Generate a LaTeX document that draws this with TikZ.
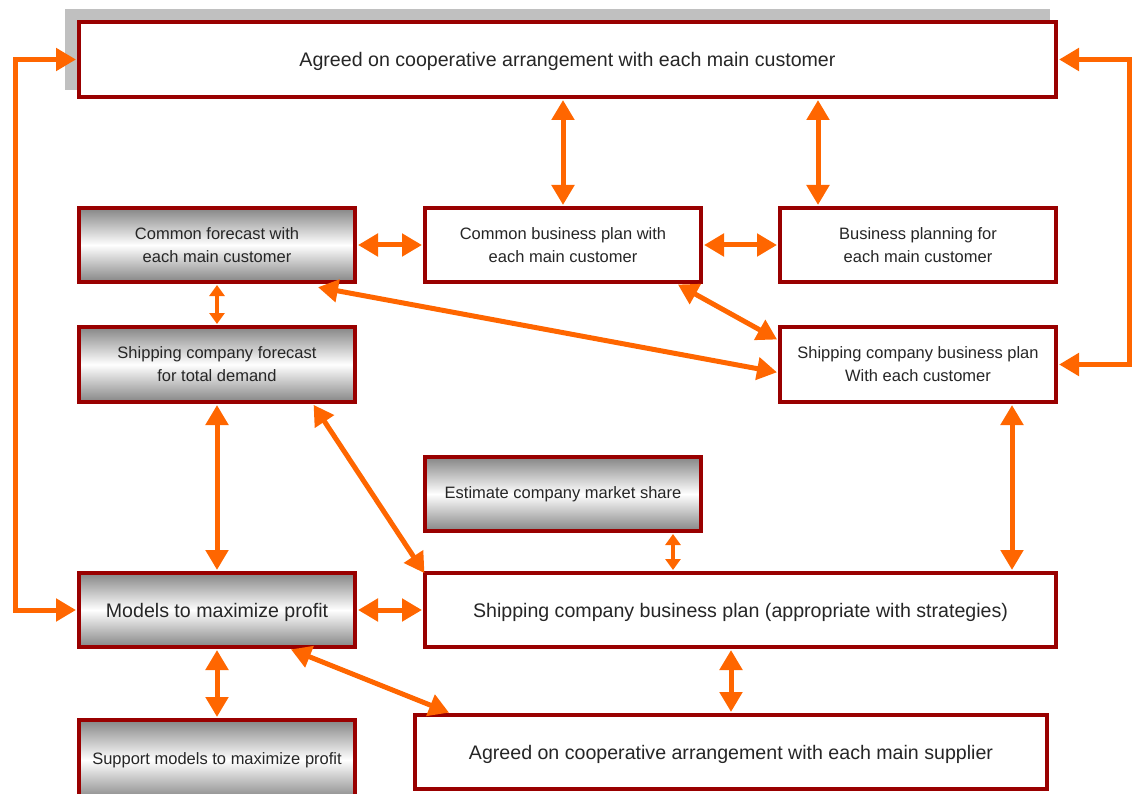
\documentclass[tikz,border=0pt]{standalone}
\usepackage{fontspec}
\setmainfont{Liberation Sans}
\usetikzlibrary{arrows.meta,calc}
\definecolor{bord}{HTML}{990000}
\definecolor{org}{HTML}{FF6600}
\definecolor{shd}{HTML}{C0C0C0}
\definecolor{gry}{HTML}{858585}
\tikzset{
  box/.style={draw=bord, line width=4pt, fill=white, inner sep=0pt, align=center, text=black!85},
  gbox/.style={box, top color=gry, bottom color=gry, middle color=white},
  small/.style={font=\fontsize{16.5pt}{23pt}\selectfont},
  big/.style={font=\fontsize{19.6pt}{23pt}\selectfont, text depth=0pt},
  dbl/.style={draw=org, line width=5pt, {Triangle[width=22pt,length=20pt]}-{Triangle[width=22pt,length=20pt]}, shorten <=1pt, shorten >=1pt},
  sdbl/.style={draw=org, line width=4pt, {Triangle[width=15pt,length=11pt]}-{Triangle[width=15pt,length=11pt]}, shorten <=1pt, shorten >=1pt},
}
\begin{document}
\begin{tikzpicture}[x=1pt,y=-1pt]
\useasboundingbox (0,0) rectangle (1132,794);
\clip (0,0) rectangle (1132,794);
\fill[shd] (65,9) rectangle (1050,90);
\node[box, big, minimum width=977pt, minimum height=75pt] (top) at (567.5,59.5) {Agreed on cooperative arrangement with each main customer};
\node[gbox, small, minimum width=276pt, minimum height=74pt] (cf) at (217,245) {Common forecast with\\each main customer};
\node[box, small, minimum width=276pt, minimum height=74pt] (cbp) at (563,245) {Common business plan with\\each main customer};
\node[box, small, minimum width=276pt, minimum height=74pt] (bpf) at (918,245) {Business planning for\\each main customer};
\node[gbox, small, minimum width=276pt, minimum height=75pt] (sf) at (217,364.5) {Shipping company forecast\\for total demand};
\node[box, small, minimum width=276pt, minimum height=75pt] (scbp) at (918,364.5) {Shipping company business plan\\With each customer};
\node[gbox, small, minimum width=276pt, minimum height=74pt] (ems) at (563,494) {Estimate company market share};
\node[gbox, big, minimum width=276pt, minimum height=74pt] (mmp) at (217,610) {Models to maximize profit};
\node[box, big, minimum width=631pt, minimum height=74pt] (scs) at (740.5,610) {Shipping company business plan (appropriate with strategies)};
\node[gbox, small, minimum width=276pt, minimum height=80pt] (smp) at (217,760) {Support models to maximize profit};
\node[box, big, minimum width=632pt, minimum height=74pt] (sup) at (731,752) {Agreed on cooperative arrangement with each main supplier};
\coordinate (L) at (15,0);
\coordinate (R) at (1129,0);
% loops
\draw[dbl] (top.west) -- (top.west -| L) -- (mmp.west -| L) -- (mmp.west);
\draw[dbl] (top.east) -- (top.east -| R) -- (scbp.east -| R) -- (scbp.east);
% top to middle row
\draw[dbl] (cbp.north |- top.south) -- (cbp.north);
\draw[dbl] ([xshift=-100pt]bpf.north |- top.south) -- ([xshift=-100pt]bpf.north);
% horizontal in row
\draw[dbl] (cf.east) -- (cbp.west);
\draw[dbl] (cbp.east) -- (bpf.west);
% small vertical
\draw[sdbl] (cf.south) -- (sf.north);
% diagonals
\draw[dbl] ([xshift=-40pt,yshift=-3pt]cf.south east) -- ([yshift=-8pt]scbp.west);
\draw[dbl] ([xshift=-26pt]cbp.south east) -- ([yshift=-15pt]scbp.north west);
\draw[dbl] ([xshift=-44pt]sf.south east) -- ([xshift=2pt,yshift=-3pt]scs.north west);
\draw[dbl] ([xshift=-67pt]mmp.south east) -- ([xshift=37pt]sup.north west);
% verticals
\draw[dbl] (sf.south) -- (mmp.north);
\draw[dbl] ([xshift=-46pt]scbp.south east) -- ([xshift=-46pt]scbp.south east |- scs.north);
\draw[sdbl] ([xshift=-30pt]ems.south east) -- ([xshift=-30pt]ems.south east |- scs.north);
\draw[dbl] (mmp.east) -- (scs.west);
\draw[dbl] (mmp.south) -- (smp.north);
\draw[dbl] (sup.north |- scs.south) -- (sup.north);
\end{tikzpicture}
\end{document}
